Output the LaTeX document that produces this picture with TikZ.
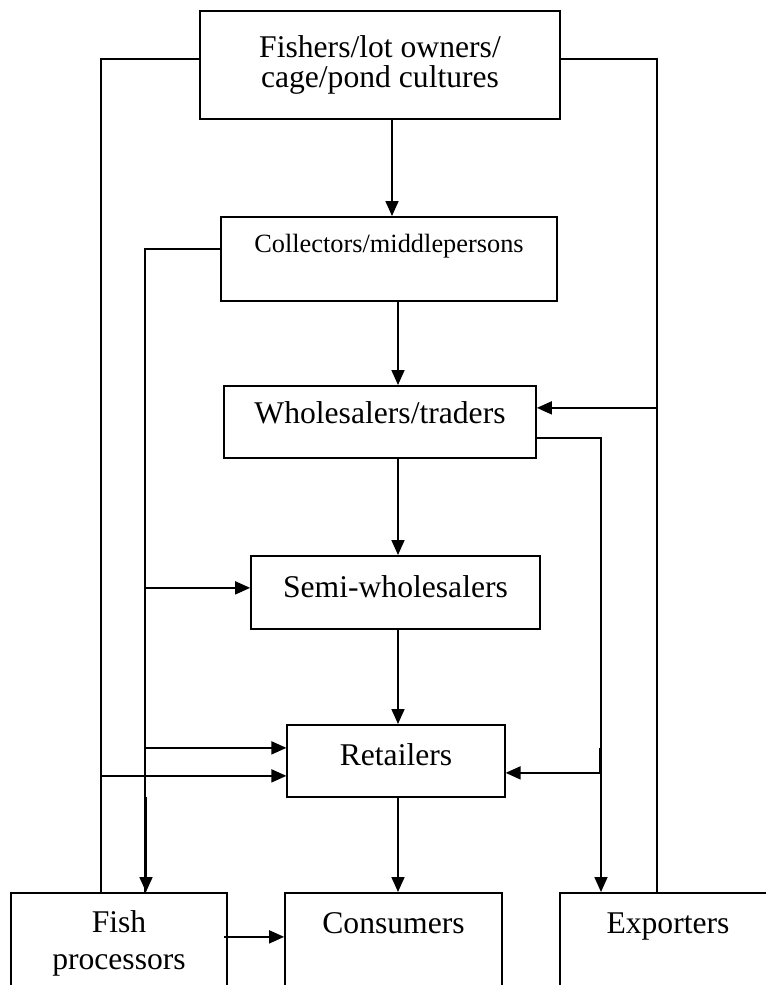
\documentclass[tikz,border=0pt]{standalone}
\usepackage{fontspec}
\setmainfont{Liberation Serif}
\usetikzlibrary{arrows.meta}

\begin{document}
\begin{tikzpicture}[
    x=0.02cm, y=-0.02cm,
    chainbox/.style={rectangle, draw, line width=1pt, inner sep=0pt, font=\fontsize{18}{21}\selectfont},
    topbox/.style={chainbox, anchor=north},
    link/.style={line width=1pt},
    arrow/.style={-{Triangle[length=0.3cm, width=0.26cm]}, line width=1pt}
]

% Frame
\useasboundingbox (0,0) rectangle (766,985);
\clip (0,0) rectangle (766,985);

% Producers
\node[chainbox, align=center, minimum width=7.2cm, minimum height=2.16cm, font=\fontsize{18}{17}\selectfont] (fishers) at (380,65) {Fishers/lot owners/\\cage/pond cultures};

% Trade chain
\node[topbox, minimum width=6.72cm, text height=0.72cm, text depth=0.96cm, font=\fontsize{15}{18}\selectfont] (collect) at (389,216) {Collectors/middlepersons};
\node[topbox, minimum width=6.24cm, text height=0.76cm, text depth=0.68cm] (whole) at (380,385) {Wholesalers/traders};
\node[topbox, minimum width=5.78cm, text height=0.84cm, text depth=0.62cm] (semi) at (395.5,555) {Semi-wholesalers};
\node[topbox, minimum width=4.35cm, text height=0.82cm, text depth=0.62cm] (retail) at (396,724) {Retailers};

% End users
\node[topbox, minimum width=4.32cm, text height=0.8cm, text depth=2.16cm] (proc) at (119,892) {\begin{tabular}[t]{@{}c@{}}Fish\\processors\end{tabular}};
\node[topbox, minimum width=4.34cm, text height=0.82cm, text depth=2.14cm] (cons) at (393.5,892) {Consumers};
\node[topbox, minimum width=4.32cm, text height=0.82cm, text depth=2.14cm] (expo) at (668,892) {Exporters};

% Line positions
\coordinate (lout) at (101,0);
\coordinate (lin) at (145,0);
\coordinate (mid) at (398,0);
\coordinate (rin) at (601,0);
\coordinate (rout) at (657,0);
\coordinate (lbend) at (146,797);
\coordinate (rtick) at (600,748);

\coordinate (cn) at ([xshift=0.06cm]collect.north);
\coordinate (fw) at ([yshift=0.12cm]fishers.west);
\coordinate (fe) at ([yshift=0.12cm]fishers.east);
\coordinate (cw) at ([yshift=0.2cm]collect.west);
\coordinate (we) at ([yshift=0.28cm]whole.east);
\coordinate (wl) at ([yshift=-0.32cm]whole.east);
\coordinate (sw) at ([yshift=0.09cm]semi.west);
\coordinate (rw1) at ([yshift=0.26cm]retail.west);
\coordinate (rw2) at ([yshift=-0.3cm]retail.west);
\coordinate (re) at ([yshift=-0.24cm]retail.east);
\coordinate (pe) at ([xshift=-0.08cm, yshift=0.6cm]proc.east);

% Main chain
\draw[arrow] (cn |- fishers.south) -- (cn);
\draw[arrow] (collect.south -| mid) -- (whole.north -| mid);
\draw[arrow] (whole.south -| mid) -- (semi.north -| mid);
\draw[arrow] (semi.south -| mid) -- (retail.north -| mid);
\draw[arrow] (retail.south -| mid) -- (cons.north -| mid);

% Outer loops from fishers
\draw[link] (fw) -| (proc.north -| lout);
\draw[arrow] (rw2 -| lout) -- (rw2);
\draw[link] (fe) -| (expo.north -| rout);
\draw[arrow] (we -| rout) -- (we);

% Collectors line
\draw[link] (cw) -| (proc.north -| lin);
\draw[arrow] (lbend) -- (proc.north -| lbend);
\draw[arrow] (sw -| lin) -- (sw);
\draw[arrow] (rw1 -| lin) -- (rw1);

% Wholesalers line
\draw[arrow] (wl) -| (expo.north -| rin);
\draw[arrow] (rtick) |- (re);

% Processors to consumers
\draw[arrow] (pe) -- (pe -| cons.west);

\end{tikzpicture}
\end{document}
